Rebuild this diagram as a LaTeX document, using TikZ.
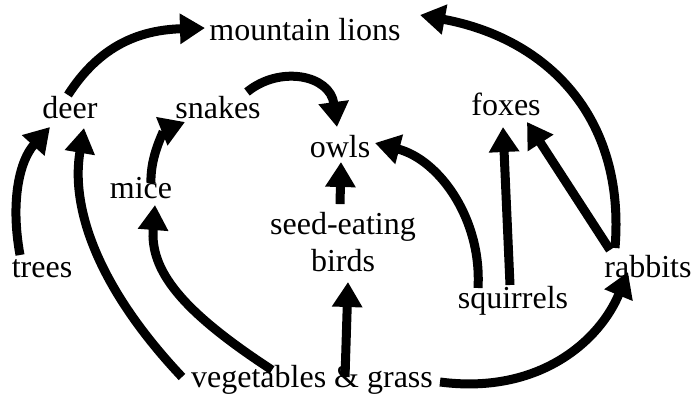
\documentclass[tikz,border=0pt]{standalone}
\usepackage{fontspec}
\setmainfont{Liberation Serif}
\usetikzlibrary{arrows.meta}
\begin{document}
\begin{tikzpicture}[x=1pt,y=-1pt,
  lbl/.style={font=\fontsize{32}{37}\selectfont, inner sep=0pt, anchor=base},
  arr/.style={line width=9pt, -{Triangle[length=25pt,width=29pt]}}]
\useasboundingbox[fill=white] (0,0) rectangle (694,394);
% nodes
\node[lbl] (ml) at (305,40) {mountain lions};
\node[lbl] (deer) at (70,118) {deer};
\node[lbl] (snakes) at (218,118) {snakes};
\node[lbl] (owls) at (340,157) {owls};
\node[lbl] (foxes) at (506,115) {foxes};
\node[lbl] (mice) at (141,198) {mice};
\node[lbl, anchor=south, align=center] (birds) at (343,272) {seed-eating\\birds};
\node[lbl] (trees) at (42,277) {trees};
\node[lbl] (squirrels) at (513,308) {squirrels};
\node[lbl] (rabbits) at (648,277) {rabbits};
\node[lbl] (veg) at (312,387) {vegetables \& grass};
% connectors
\draw[arr] ([shift={(-2,-23)}]deer.base) .. controls (100,45) and (140,30) .. ([shift={(-100,-12)}]ml.base);
\draw[arr] ([shift={(-22,-22)}]trees.base) .. controls (10,200) and (20,160) .. ([shift={(-20,9)}]deer.base);
\draw[arr] ([shift={(-130,-10)}]veg.base) .. controls (100,290) and (70,210) .. ([shift={(14,10)}]deer.base);
\draw[arr] ([shift={(-40,-17)}]veg.base) .. controls (180,310) and (150,270) .. ([shift={(14,7)}]mice.base);
\draw[arr] ([shift={(10,-15)}]mice.base) .. controls (150,155) and (165,130) .. ([shift={(-33,4)}]snakes.base);
\draw[arr] ([shift={(29,-26)}]snakes.base) .. controls (280,65) and (330,75) .. ([shift={(-3,-30)}]owls.base);
\draw[arr] ([shift={(-3,-8)}]birds.north) -- ([shift={(1,5)}]owls.base);
\draw[arr] ([shift={(33,-10)}]veg.base) -- ([shift={(5,10)}]birds.south);
\draw[arr] ([shift={(-35,-20)}]squirrels.base) .. controls (482,220) and (440,160) .. ([shift={(35,-14)}]owls.base);
\draw[arr] ([shift={(-3,-23)}]squirrels.base) -- ([shift={(-3,12)}]foxes.base);
\draw[arr] ([shift={(-38,-27)}]rabbits.base) -- ([shift={(21,7)}]foxes.base);
\draw[arr] ([shift={(-33,-29)}]rabbits.base) .. controls (626,115) and (545,38) .. ([shift={(115,-25)}]ml.base);
\draw[arr] ([shift={(128,-5)}]veg.base) .. controls (540,395) and (600,340) .. ([shift={(-20,-5)}]rabbits.base);
\end{tikzpicture}
\end{document}
